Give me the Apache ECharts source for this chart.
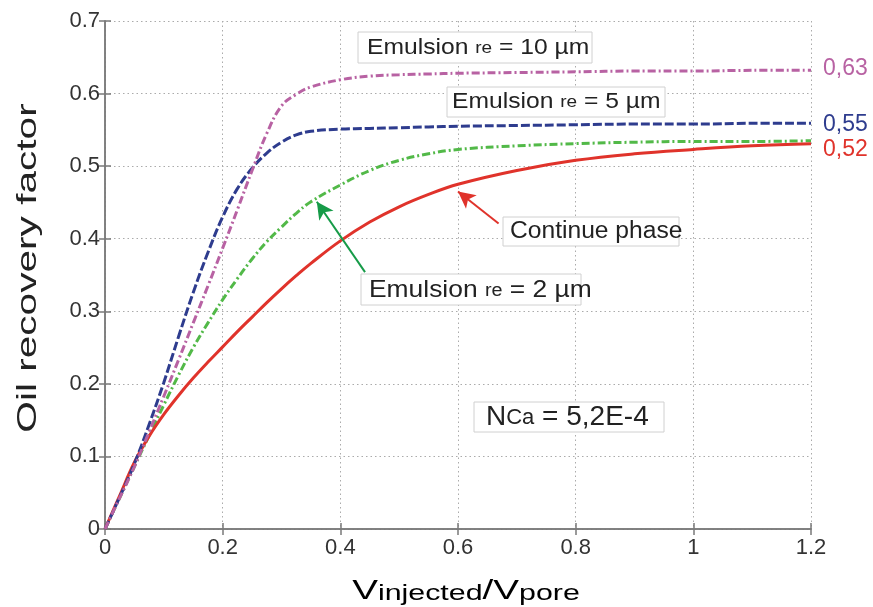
<!DOCTYPE html>
<html><head><meta charset="utf-8">
<script src="https://cdn.jsdelivr.net/npm/echarts@6/dist/echarts.min.js"></script>
<style>html,body{margin:0;padding:0;background:#fff}#c{width:873px;height:607px}</style>
</head><body><div id="c"></div>
<script>
// ---- data ----
const xValues   = [0, 0.025, 0.05, 0.075, 0.1, 0.125, 0.15, 0.175, 0.2, 0.225, 0.25, 0.275, 0.3, 0.325, 0.35, 0.4, 0.45, 0.5, 0.55, 0.6, 0.7, 0.8, 0.9, 1.0, 1.1, 1.2];
const yContinue = [0, 0.046, 0.092, 0.128, 0.158, 0.184, 0.208, 0.230, 0.251, 0.272, 0.292, 0.312, 0.331, 0.349, 0.366, 0.397, 0.423, 0.444, 0.461, 0.475, 0.494, 0.508, 0.517, 0.523, 0.528, 0.531];
const yEm2      = [0, 0.043, 0.086, 0.129, 0.171, 0.212, 0.250, 0.284, 0.316, 0.345, 0.372, 0.396, 0.416, 0.435, 0.451, 0.474, 0.494, 0.508, 0.517, 0.523, 0.528, 0.531, 0.533, 0.534, 0.534, 0.535];
const yEm5      = [0, 0.044, 0.090, 0.144, 0.202, 0.265, 0.326, 0.381, 0.430, 0.469, 0.497, 0.518, 0.533, 0.543, 0.548, 0.551, 0.552, 0.553, 0.554, 0.555, 0.556, 0.557, 0.558, 0.558, 0.559, 0.559];
const yEm10     = [0, 0.043, 0.086, 0.134, 0.183, 0.233, 0.284, 0.335, 0.387, 0.440, 0.494, 0.545, 0.583, 0.599, 0.609, 0.619, 0.624, 0.626, 0.627, 0.628, 0.629, 0.630, 0.631, 0.631, 0.632, 0.632];
const xTicks = [0, 0.2, 0.4, 0.6, 0.8, 1, 1.2];
const yTicks = [0, 0.1, 0.2, 0.3, 0.4, 0.5, 0.6, 0.7];
const endLabels = { em10: '0,63', em5: '0,55', cont: '0,52' };
const arrowContinue = [[0.669, 0.421], [0.600, 0.465]];
const arrowEm2      = [[0.442, 0.354], [0.360, 0.451]];

const FONT = "'Liberation Sans', Arial, sans-serif";
const zip = ys => xValues.map((x, i) => [x, ys[i]]);

const C_RED = '#e0332b', C_BLUE = '#2e3c8e', C_MAG = '#b862a3', C_GREEN = '#52b948';

const chart = echarts.init(document.getElementById('c'), null, { renderer: 'canvas' });

const axisLine = { show: true, lineStyle: { color: '#7a7a7a', width: 1.5 } };
const tickIn = { show: true, inside: true, length: 6, lineStyle: { color: '#7a7a7a', width: 1.5 } };
const split = { show: true, lineStyle: { type: [1.5, 3], color: '#ababab', width: 1 } };
const tickLabel = { fontSize: 22, color: '#333', fontFamily: FONT };

function lineSeries(name, ys, color, type, endText, endOffset, extra) {
  return Object.assign({
    name, type: 'line', data: zip(ys), showSymbol: false, smooth: 0.4,
    lineStyle: { color, width: 3, type, cap: 'butt' },
    endLabel: { show: true, formatter: endText, color, fontSize: 23, fontFamily: FONT, distance: 12, offset: endOffset },
    silent: true
  }, extra || {});
}

function arrowLine(pts, color) {
  return {
    silent: true, symbol: ['none', 'arrow'], symbolSize: [13, 17],
    label: { show: false },
    lineStyle: { color, width: 2, type: 'solid' },
    data: [[{ coord: pts[0] }, { coord: pts[1] }]]
  };
}

function box(x, y, w, h) {
  return { type: 'rect', shape: { x, y, width: w, height: h }, style: { fill: '#fff', stroke: '#d0d0d0', lineWidth: 1 }, z: 50 };
}
function label(x, y, text, rich, sx) {
  return { type: 'text', x, y, scaleX: sx || 1, z: 51,
    style: { text, rich, fill: '#222', verticalAlign: 'middle', align: 'left' } };
}
function richSet(big, small) {
  return { a: { fontSize: big, fontFamily: FONT, color: '#222', verticalAlign: 'bottom' },
           s: { fontSize: small, fontFamily: FONT, color: '#222', verticalAlign: 'bottom', padding: [0, 0, 2, 0] } };
}

const option = {
  animation: false,
  backgroundColor: '#fff',
  grid: { left: 105, right: 62, top: 21, bottom: 78, containLabel: false },
  xAxis: [
    { type: 'value', min: xTicks[0], max: xTicks[xTicks.length - 1], interval: xTicks[1] - xTicks[0], position: 'bottom',
      axisLine, axisTick: tickIn, splitLine: split, axisLabel: Object.assign({ margin: 8 }, tickLabel) },
    { type: 'value', min: xTicks[0], max: xTicks[xTicks.length - 1], interval: xTicks[1] - xTicks[0], position: 'top',
      axisLine, axisTick: tickIn, splitLine: { show: false }, axisLabel: { show: false } }
  ],
  yAxis: [
    { type: 'value', min: yTicks[0], max: yTicks[yTicks.length - 1], interval: 0.1, position: 'left',
      axisLine, axisTick: tickIn, splitLine: split, axisLabel: Object.assign({ margin: 5 }, tickLabel) },
    { type: 'value', min: yTicks[0], max: yTicks[yTicks.length - 1], interval: 0.1, position: 'right',
      axisLine, axisTick: tickIn, splitLine: { show: false }, axisLabel: { show: false } }
  ],
  series: [
    lineSeries('Emulsion re = 2 µm', yEm2, C_GREEN, [8, 3, 2, 3], null, [0, 0],
      { endLabel: { show: false }, markLine: arrowLine(arrowEm2, '#169b48') }),
    lineSeries('Continue phase', yContinue, C_RED, 'solid', endLabels.cont, [0, 6],
      { markLine: arrowLine(arrowContinue, '#e0332b') }),
    lineSeries('Emulsion re = 5 µm', yEm5, C_BLUE, [9, 3], endLabels.em5, [0, 1]),
    lineSeries('Emulsion re = 10 µm', yEm10, C_MAG, [8, 3, 2, 3], endLabels.em10, [0, -2])
  ],
  graphic: [
    box(358, 32, 234, 31), label(367, 48, '{a|Emulsion }{s|re}{a| = 10 µm}', richSet(22, 17), 1.12),
    box(447, 87, 218, 30), label(452, 102, '{a|Emulsion }{s|re}{a| = 5 µm}', richSet(22, 17), 1.12),
    box(503, 217, 176, 29), label(510, 232, '{a|Continue phase}', richSet(23, 17), 1.07),
    box(361, 274, 220, 31), label(369, 290, '{a|Emulsion }{s|re}{a| = 2 µm}', richSet(24, 18), 1.1),
    box(474, 402, 190, 30), label(486, 417, '{a|N}{s|Ca}{a| = 5,2E-4}', richSet(28, 22), 1.0),
    { type: 'text', x: 28, y: 268, rotation: Math.PI / 2, scaleX: 1.45, z: 51,
      style: { text: 'Oil recovery factor', font: '28px ' + FONT, fill: '#222', align: 'center', verticalAlign: 'middle' } },
    { type: 'text', x: 466, y: 591, scaleX: 1.38, z: 51,
      style: { text: '{b|V}{s|injected}{b|/V}{s|pore}', align: 'center', verticalAlign: 'middle',
        rich: { b: { fontSize: 28, fontFamily: FONT, color: '#222', verticalAlign: 'bottom' },
                s: { fontSize: 22, fontFamily: FONT, color: '#222', verticalAlign: 'bottom' } } } }
  ]
};
chart.setOption(option);
</script>
</body></html>
